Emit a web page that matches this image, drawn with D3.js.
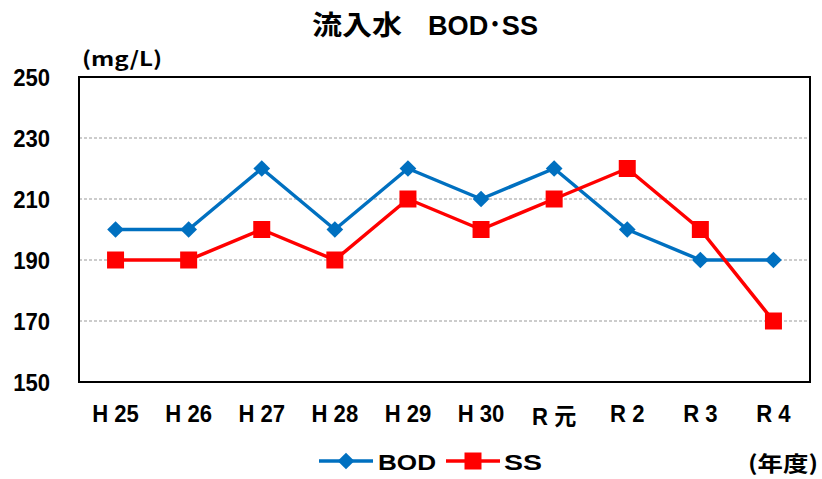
<!DOCTYPE html>
<html>
<head>
<meta charset="utf-8">
<script src="https://cdn.jsdelivr.net/npm/d3@7"></script>
<style>
  body { margin: 0; background: #fff; }
  svg { display: block; }
  text { font-family: "Liberation Sans", Arial, "Noto Sans CJK JP", sans-serif; font-weight: bold; fill: #000; }
</style>
</head>
<body>
<svg id="chart" width="822" height="479"></svg>
<script>
// data
const years = ['H 25', 'H 26', 'H 27', 'H 28', 'H 29', 'H 30', 'R 元', 'R 2', 'R 3', 'R 4'];
const bod = [200, 200, 220, 200, 220, 210, 220, 200, 190, 190];
const ss = [190, 190, 200, 190, 210, 200, 210, 220, 200, 170];
const yTicks = [150, 170, 190, 210, 230, 250];

const plot = { left: 79, right: 810, top: 77, bottom: 382 };

const svg = d3.select('#chart');

const x = d3.scaleBand()
    .domain(years)
    .range([plot.left, plot.right]);

const y = d3.scaleLinear()
    .domain([150, 250])
    .range([plot.bottom, plot.top]);

// squeeze text horizontally, the original font is a narrow gothic
function condense(sel, factor) {
    sel.each(function () {
        const w = this.getComputedTextLength();
        d3.select(this)
            .attr('textLength', w * factor)
            .attr('lengthAdjust', 'spacingAndGlyphs');
    });
}

// gridlines
svg.append('g')
    .selectAll('line')
    .data(yTicks.filter(t => t > 150 && t < 250))
    .enter()
    .append('line')
    .attr('x1', plot.left)
    .attr('x2', plot.right)
    .attr('y1', d => y(d))
    .attr('y2', d => y(d))
    .style('stroke', '#999')
    .style('stroke-width', 1)
    .style('stroke-dasharray', '3,2');

// frame
svg.append('rect')
    .attr('x', plot.left)
    .attr('y', plot.top)
    .attr('width', plot.right - plot.left)
    .attr('height', plot.bottom - plot.top)
    .style('fill', 'none')
    .style('stroke', '#000')
    .style('stroke-width', 2);

// y axis labels
const yAxis = d3.axisLeft(y).tickValues(yTicks).tickSize(0).tickPadding(0);
const yg = svg.append('g')
    .attr('transform', `translate(${plot.left - 29},0)`)
    .call(yAxis);
yg.select('.domain').remove();
yg.selectAll('text')
    .attr('dy', '0.36em')
    .style('font-size', '24px')
    .style('font-family', '"Liberation Sans", Arial, sans-serif')
    .call(condense, 0.92);

// x axis labels
const xAxis = d3.axisBottom(x).tickSize(0).tickPadding(0);
const xg = svg.append('g')
    .attr('transform', `translate(0,${plot.bottom + 40})`)
    .call(xAxis);
xg.select('.domain').remove();
xg.selectAll('text')
    .attr('dy', d => d === 'R 元' ? 3 : 0)
    .style('font-size', '24px')
    .style('font-family', '"Liberation Sans", Arial, "Noto Sans CJK JP", sans-serif')
    .call(condense, 0.92);

// lines
const cx = d => x(d) + x.bandwidth() / 2;
const line = d3.line()
    .x(d => cx(d.year))
    .y(d => y(d.value));

const series = [
    { name: 'BOD', values: bod, color: '#0070C0', symbol: 'diamond' },
    { name: 'SS', values: ss, color: '#FF0000', symbol: 'square' },
];

series.forEach(s => {
    const pts = s.values.map((v, i) => ({ year: years[i], value: v }));
    svg.append('path')
        .datum(pts)
        .attr('d', line)
        .style('fill', 'none')
        .style('stroke', s.color)
        .style('stroke-width', 3.5)
        .style('stroke-linejoin', 'round');
});

function markerPath(symbol) {
    return symbol === 'diamond'
        ? d3.symbol().type(d3.symbolSquare).size(140)()
        : d3.symbol().type(d3.symbolSquare).size(289)();
}
function markerTransform(symbol, px, py) {
    return `translate(${px},${py})` + (symbol === 'diamond' ? ' rotate(45)' : '');
}

series.forEach(s => {
    svg.append('g')
        .selectAll('path')
        .data(s.values.map((v, i) => ({ year: years[i], value: v })))
        .enter()
        .append('path')
        .attr('d', markerPath(s.symbol))
        .attr('transform', d => markerTransform(s.symbol, cx(d.year), y(d.value)))
        .style('fill', s.color);
});

// title
svg.append('text')
    .attr('x', 312)
    .attr('y', 35)
    .attr('textLength', 90)
    .attr('lengthAdjust', 'spacingAndGlyphs')
    .style('font-size', '27px')
    .style('font-family', '"Noto Sans CJK JP", sans-serif')
    .text('流入水');
svg.append('text')
    .attr('x', 428)
    .attr('y', 35)
    .attr('textLength', 110)
    .attr('lengthAdjust', 'spacingAndGlyphs')
    .style('font-size', '28px')
    .style('font-family', '"Liberation Sans", Arial, "Noto Sans CJK JP", sans-serif')
    .text('BOD･SS');

// unit labels
svg.append('text')
    .attr('x', 82)
    .attr('y', 66)
    .attr('textLength', 80)
    .attr('lengthAdjust', 'spacingAndGlyphs')
    .style('font-size', '20px')
    .style('font-family', '"Noto Sans CJK JP", sans-serif')
    .text('(mg/L)');

svg.append('text')
    .attr('x', 748)
    .attr('y', 471)
    .attr('textLength', 70)
    .attr('lengthAdjust', 'spacingAndGlyphs')
    .style('font-size', '21px')
    .style('font-family', '"Noto Sans CJK JP", sans-serif')
    .text('(年度)');

// legend
const legendX = [319, 446];
const legendY = 461;
series.forEach((s, i) => {
    const lg = svg.append('g').attr('transform', `translate(${legendX[i]},${legendY})`);
    lg.append('line')
        .attr('x1', 0).attr('x2', 54)
        .attr('y1', 0).attr('y2', 0)
        .style('stroke', s.color)
        .style('stroke-width', 3.5);
    lg.append('path')
        .attr('d', markerPath(s.symbol))
        .attr('transform', markerTransform(s.symbol, 27, 0))
        .style('fill', s.color);
    lg.append('text')
        .attr('x', i === 0 ? 59 : 58)
        .attr('y', 8.5)
        .attr('textLength', i === 0 ? 58 : 38)
        .attr('lengthAdjust', 'spacingAndGlyphs')
        .style('font-size', '22px')
        .text(s.name);
});
</script>
</body>
</html>
